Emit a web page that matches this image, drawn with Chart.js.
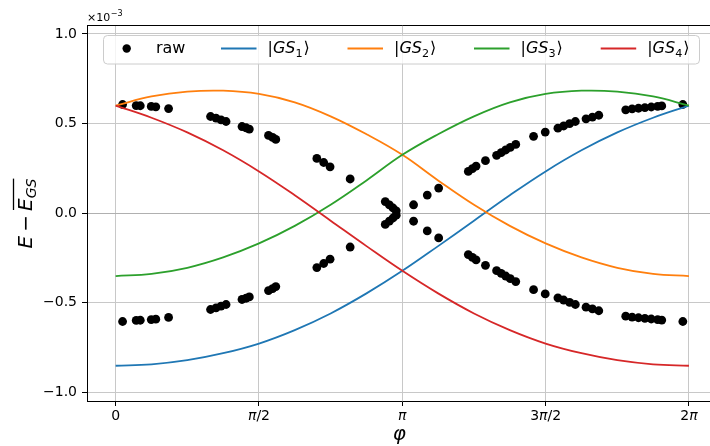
<!DOCTYPE html>
<html>
<head>
<meta charset="utf-8">
<script src="https://cdn.jsdelivr.net/npm/chart.js@4.4.1/dist/chart.umd.min.js"></script>
<style>
html, body { margin: 0; padding: 0; background: #fff; overflow: hidden; }
#wrap { width: 710px; height: 446px; overflow: hidden; }
canvas { display: block; }
</style>
</head>
<body>
<div id="wrap"><canvas id="chart" width="722" height="446"></canvas></div>
<script>
// phi samples for the model curves (0 .. 2pi, step pi/8)
const phiGrid = [0, 0.393, 0.785, 1.178, 1.571, 1.963, 2.356, 2.749, 3.142, 3.534, 3.927, 4.320, 4.712, 5.105, 5.498, 5.890, 6.283];

// energies, units of 1e-3
const gs1 = [-0.853, -0.845, -0.822, -0.783, -0.729, -0.654, -0.561, -0.449, -0.323, -0.185, -0.043, 0.099, 0.232, 0.350, 0.450, 0.532, 0.600];
const gs2 = [0.600, 0.651, 0.678, 0.683, 0.665, 0.618, 0.540, 0.440, 0.325, 0.182, 0.046, -0.072, -0.170, -0.248, -0.306, -0.340, -0.352];
const gs3 = [-0.352, -0.340, -0.306, -0.248, -0.170, -0.072, 0.046, 0.182, 0.325, 0.440, 0.540, 0.618, 0.665, 0.683, 0.678, 0.651, 0.600];
const gs4 = [0.600, 0.532, 0.450, 0.350, 0.232, 0.099, -0.043, -0.185, -0.323, -0.449, -0.561, -0.654, -0.729, -0.783, -0.822, -0.845, -0.853];

// raw points: phi and the two branches
const rawPhi = [0.076, 0.225, 0.27, 0.39, 0.44, 0.58, 1.04, 1.10, 1.155, 1.21, 1.385, 1.43, 1.465, 1.675, 1.72, 1.755,
  2.205, 2.28, 2.35, 2.57, 2.955, 3.00, 3.04, 3.075, 3.265, 3.415, 3.54, 3.865, 3.91, 3.95, 4.053,
  4.175, 4.225, 4.275, 4.325, 4.385, 4.58, 4.708, 4.847, 4.91, 4.975, 5.038, 5.155, 5.225, 5.295,
  5.59, 5.66, 5.73, 5.80, 5.87, 5.94, 5.985, 6.216];
const rawUpper = [0.606, 0.600, 0.599, 0.595, 0.593, 0.583, 0.539, 0.530, 0.520, 0.511, 0.483, 0.476, 0.469, 0.433, 0.422, 0.411,
  0.305, 0.282, 0.258, 0.190, 0.064, 0.045, 0.028, 0.012, 0.046, 0.100, 0.139, 0.232, 0.248, 0.262, 0.292,
  0.322, 0.337, 0.352, 0.367, 0.383, 0.428, 0.452, 0.474, 0.486, 0.499, 0.511, 0.526, 0.536, 0.546,
  0.576, 0.581, 0.585, 0.589, 0.592, 0.595, 0.598, 0.606];
const rawLower = [-0.606, -0.600, -0.599, -0.595, -0.593, -0.583, -0.539, -0.530, -0.520, -0.511, -0.483, -0.476, -0.469, -0.433, -0.422, -0.411,
  -0.305, -0.282, -0.258, -0.190, -0.064, -0.045, -0.028, -0.012, -0.046, -0.100, -0.139, -0.232, -0.248, -0.262, -0.292,
  -0.322, -0.337, -0.352, -0.367, -0.383, -0.428, -0.452, -0.474, -0.486, -0.499, -0.511, -0.526, -0.536, -0.546,
  -0.576, -0.581, -0.585, -0.589, -0.592, -0.595, -0.598, -0.606];

const xTickValues = [0, 1.5708, 3.1416, 4.7124, 6.2832];
const xTickLabels = ['0', 'π/2', 'π', '3π/2', '2π'];
const yTickValues = [-1, -0.5, 0, 0.5, 1];
const yTickLabels = ['−1.0', '−0.5', '0.0', '0.5', '1.0'];

const seriesSubs = ['1', '2', '3', '4'];
const seriesColors = ['#1f77b4', '#ff7f0e', '#2ca02c', '#d62728'];

const FONT = '"DejaVu Sans"';

function toPoints(xs, ys) {
	return xs.map((x, i) => ({x: x, y: ys[i]}));
}

// draws text, pi glyphs in italic like mathtext
function drawMixed(ctx, text, x, y, size, align) {
	const parts = text.split('');
	const fonts = parts.map(c => (c === 'π' ? 'italic ' : '') + size + 'px ' + FONT);
	let w = 0;
	const widths = parts.map((c, i) => { ctx.font = fonts[i]; const m = ctx.measureText(c).width; w += m; return m; });
	let cx = align === 'center' ? x - w / 2 : x;
	parts.forEach((c, i) => {
		ctx.font = fonts[i];
		ctx.fillText(c, cx, y);
		cx += widths[i];
	});
}

// |GS_n> label
function drawKet(ctx, sub, x, y, size) {
	let cx = x;
	ctx.font = size + 'px ' + FONT;
	ctx.fillText('|', cx, y);
	cx += ctx.measureText('|').width;
	ctx.font = 'italic ' + size + 'px ' + FONT;
	ctx.fillText('GS', cx, y);
	cx += ctx.measureText('GS').width;
	ctx.font = (size * 0.7) + 'px ' + FONT;
	ctx.fillText(sub, cx, y + size * 0.22);
	cx += ctx.measureText(sub).width + 1;
	ctx.font = size + 'px ' + FONT;
	ctx.fillText('⟩', cx, y);
}

const legendX = [108.9, 221, 347.5, 474, 600.7];

const decorPlugin = {
	id: 'decor',
	afterDraw(chart) {
		const ctx = chart.ctx;
		const a = chart.chartArea;
		const xs = chart.scales.x;
		ctx.save();

		// top + right spines
		ctx.strokeStyle = '#000';
		ctx.lineWidth = 1;
		ctx.beginPath();
		ctx.moveTo(a.left, Math.round(a.top) + 0.5);
		ctx.lineTo(a.right, Math.round(a.top) + 0.5);
		ctx.moveTo(Math.round(a.right) - 0.5, a.top);
		ctx.lineTo(Math.round(a.right) - 0.5, a.bottom);
		ctx.stroke();

		ctx.fillStyle = '#000';
		ctx.textBaseline = 'alphabetic';
		ctx.textAlign = 'left';

		// x tick labels
		xTickValues.forEach((v, i) => {
			drawMixed(ctx, xTickLabels[i], xs.getPixelForValue(v), 419.5, 14, 'center');
		});

		// offset text
		ctx.font = '11px ' + FONT;
		ctx.fillText('×10', a.left, 20.5);
		const w10 = ctx.measureText('×10').width;
		ctx.font = '8px ' + FONT;
		ctx.fillText('−3', a.left + w10 + 0.5, 15.5);

		// x label
		ctx.font = 'italic 20px ' + FONT;
		ctx.textAlign = 'center';
		ctx.fillText('φ', (a.left + a.right) / 2 - 3, 440);

		// y label: E - overline(E_GS)
		ctx.textAlign = 'left';
		ctx.translate(32, 213.5);
		ctx.rotate(-Math.PI / 2);
		ctx.font = 'italic 20px ' + FONT;
		const wE = ctx.measureText('E').width;
		ctx.font = '20px ' + FONT;
		const wM = ctx.measureText('−').width;
		ctx.font = 'italic 14px ' + FONT;
		const wGS = ctx.measureText('GS').width;
		const gap = 4;
		const total = wE + gap + wM + gap + wE + wGS;
		let cx = -total / 2;
		ctx.font = 'italic 20px ' + FONT;
		ctx.fillText('E', cx, 0);
		cx += wE + gap;
		ctx.font = '20px ' + FONT;
		ctx.fillText('−', cx, 0);
		cx += wM + gap;
		const ovStart = cx;
		ctx.font = 'italic 20px ' + FONT;
		ctx.fillText('E', cx, 0);
		cx += wE;
		ctx.font = 'italic 14px ' + FONT;
		ctx.fillText('GS', cx, 4);
		cx += wGS;
		ctx.beginPath();
		ctx.lineWidth = 1.3;
		ctx.moveTo(ovStart + 1, -18.5);
		ctx.lineTo(cx, -18.5);
		ctx.stroke();
		ctx.restore();

		// legend
		ctx.save();
		ctx.fillStyle = 'rgba(255,255,255,0.8)';
		ctx.strokeStyle = '#cccccc';
		ctx.lineWidth = 1;
		ctx.beginPath();
		ctx.roundRect(103.5, 35.5, 596, 28.5, 4);
		ctx.fill();
		ctx.stroke();
		const ly = 48.5;
		ctx.fillStyle = '#000';
		ctx.beginPath();
		ctx.arc(legendX[0] + 17.8, ly, 4.2, 0, Math.PI * 2);
		ctx.fill();
		ctx.font = '16px ' + FONT;
		ctx.fillText('raw', legendX[0] + 47, 53);
		seriesSubs.forEach((s, i) => {
			const hx = legendX[i + 1];
			ctx.strokeStyle = seriesColors[i];
			ctx.lineWidth = 2;
			ctx.beginPath();
			ctx.moveTo(hx, ly);
			ctx.lineTo(hx + 35.5, ly);
			ctx.stroke();
			ctx.fillStyle = '#000';
			drawKet(ctx, s, hx + 46.5, 53, 16);
		});
		ctx.restore();
	}
};

const lineSeries = [gs1, gs2, gs3, gs4];

const datasets = lineSeries.map((ys, i) => ({
	label: '|GS' + seriesSubs[i] + '⟩',
	data: toPoints(phiGrid, ys),
	borderColor: seriesColors[i],
	backgroundColor: seriesColors[i],
	borderWidth: 1.8,
	pointRadius: 0,
	tension: 0.4,
	fill: false,
	order: 4 - i,
}));

datasets.push({
	label: 'raw',
	data: toPoints(rawPhi, rawUpper).concat(toPoints(rawPhi, rawLower)),
	showLine: false,
	pointRadius: 4.4,
	pointBorderWidth: 0,
	pointBackgroundColor: '#000',
	pointBorderColor: '#000',
	order: 10,
});

new Chart(document.getElementById('chart'), {
	type: 'line',
	data: { datasets: datasets },
	options: {
		responsive: false,
		devicePixelRatio: 1,
		animation: false,
		events: [],
		layout: { padding: { left: 0, top: 25, right: 1, bottom: 0 } },
		plugins: {
			legend: { display: false },
			tooltip: { enabled: false },
		},
		scales: {
			x: {
				type: 'linear',
				min: -0.314,
				max: 6.597,
				afterBuildTicks: scale => { scale.ticks = xTickValues.map(v => ({value: v})); },
				afterFit: scale => { scale.height = 45; },
				grid: { color: '#c8c8c8', lineWidth: 1, tickColor: '#000', tickLength: 5, tickWidth: 1 },
				border: { display: true, color: '#000', width: 1 },
				ticks: { display: false },
			},
			y: {
				type: 'linear',
				min: -1.05,
				max: 1.05,
				afterBuildTicks: scale => { scale.ticks = yTickValues.map(v => ({value: v})); },
				afterFit: scale => { scale.width = 87; },
				grid: {
					color: c => (c.tick && c.tick.value === 0 ? '#b0b0b0' : '#c8c8c8'),
					lineWidth: 1, tickColor: '#000', tickLength: 5, tickWidth: 1
				},
				border: { display: true, color: '#000', width: 1 },
				ticks: {
					padding: 5,
					color: '#000',
					font: { family: 'DejaVu Sans', size: 14 },
					callback: (v, i) => yTickLabels[yTickValues.indexOf(v)],
				},
			},
		},
	},
	plugins: [decorPlugin],
});
</script>
</body>
</html>
